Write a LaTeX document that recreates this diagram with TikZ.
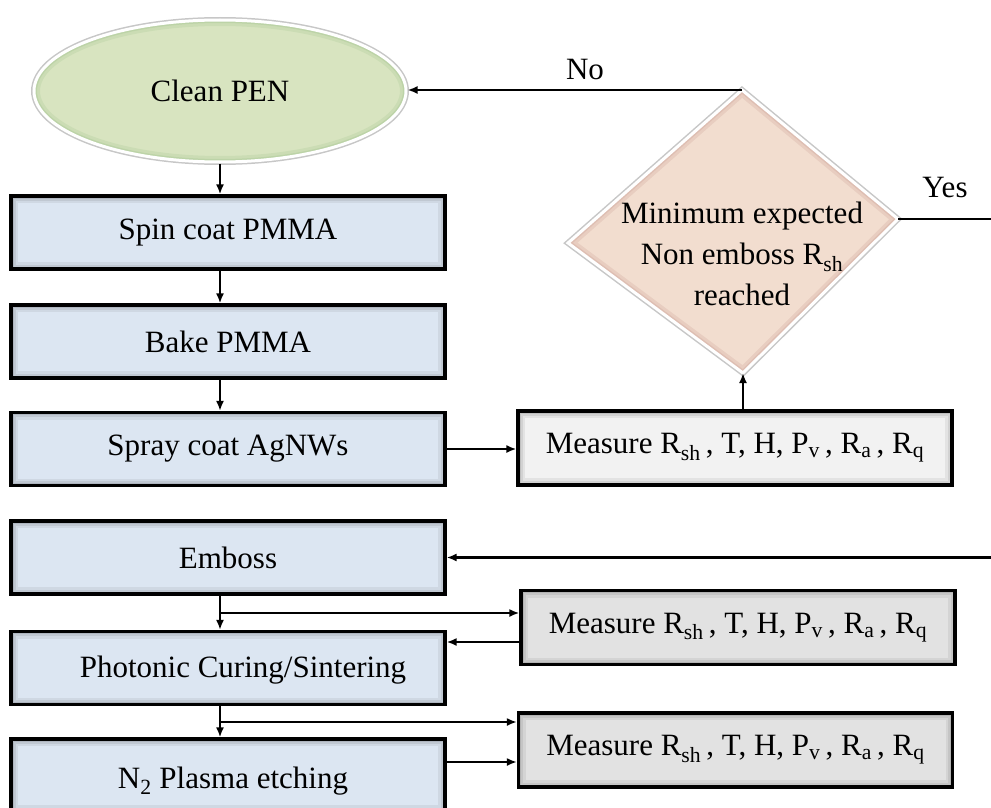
\documentclass[tikz,border=0pt]{standalone}
\usepackage{fontspec}
\setmainfont{Liberation Serif}
\usetikzlibrary{shapes.geometric,arrows.meta,calc}
\definecolor{boxblue}{RGB}{220,230,242}
\definecolor{lgray}{RGB}{242,242,242}
\definecolor{mgray}{RGB}{226,226,226}
\definecolor{peach}{RGB}{242,221,207}
\definecolor{lgreen}{RGB}{216,228,192}
\tikzset{
  inshadow/.style={path picture={
    \draw[line width=14pt,black,opacity=0.06] (path picture bounding box.north west) rectangle (path picture bounding box.south east);
    \draw[line width=9pt,black,opacity=0.07] (path picture bounding box.north west) rectangle (path picture bounding box.south east);
    \draw[line width=5pt,black,opacity=0.09] (path picture bounding box.north west) rectangle (path picture bounding box.south east);
  }},
  stepbox/.style={draw=black,line width=3.2pt,fill=boxblue,inshadow,minimum width=434pt,minimum height=73pt,inner sep=0pt},
  mbox/.style={draw=black,line width=3.2pt,inshadow,minimum width=434pt,minimum height=74pt,inner sep=0pt},
  arr/.style={line width=2.4pt,-{Latex[length=10pt,width=8pt]}},
  txt/.style={inner sep=0pt,font=\fontsize{31}{41}\selectfont}
}
\begin{document}
\begin{tikzpicture}[x=1pt,y=-1pt,every node/.style={font=\fontsize{31}{41}\selectfont}]
\useasboundingbox (0,0) rectangle (991,808);

% start ellipse
\node[ellipse,minimum width=372pt,minimum height=142pt,fill=lgreen,draw=white,line width=3pt,
  preaction={draw=black!22,line width=6pt},
  path picture={
    \draw[line width=12pt,black!60!green,opacity=0.06] (path picture bounding box.center) ellipse [x radius=186pt,y radius=71pt];
    \draw[line width=6pt,black!60!green,opacity=0.07] (path picture bounding box.center) ellipse [x radius=186pt,y radius=71pt];}]
  (ell) at (220,91) {Clean PEN};

% left column
\node[stepbox] (spin) at (228,232.5) {Spin coat PMMA};
\node[stepbox] (bake) at (228,341.5) {Bake PMMA};
\node[stepbox] (spray) at (228,449) {Spray coat AgNWs};
\node[stepbox] (emboss) at (228,557.5) {Emboss};
\node[stepbox] (photo) at (228,668) {};
\node[txt] (photot) at (243,670) {Photonic Curing/Sintering};
\node[stepbox] (n2) at (228,775.5) {};
\node[txt] (n2t) at (233,781) {N\textsubscript{2} Plasma etching};

% measure boxes
\node[mbox,fill=lgray] (m1) at (735,448) {Measure R\textsubscript{sh}\,, T, H, P\textsubscript{v}\,, R\textsubscript{a}\,, R\textsubscript{q}};
\node[mbox,fill=mgray] (m2) at (738,627.5) {Measure R\textsubscript{sh}\,, T, H, P\textsubscript{v}\,, R\textsubscript{a}\,, R\textsubscript{q}};
\node[mbox,fill=mgray] (m3) at (735.5,750) {Measure R\textsubscript{sh}\,, T, H, P\textsubscript{v}\,, R\textsubscript{a}\,, R\textsubscript{q}};

% decision diamond
\coordinate (dT) at (742,90);
\coordinate (dL) at (568,243);
\coordinate (dR) at (898,219);
\coordinate (dB) at (743,373);
\draw[line width=6pt,black!22,line join=miter] (dT)--(dR)--(dB)--(dL)--cycle;
\fill[peach] (dT)--(dR)--(dB)--(dL)--cycle;
\begin{scope}
  \clip (dT)--(dR)--(dB)--(dL)--cycle;
  \draw[line width=12pt,black!60!red,opacity=0.07,line join=miter] (dT)--(dR)--(dB)--(dL)--cycle;
  \draw[line width=6pt,black!60!red,opacity=0.07,line join=miter] (dT)--(dR)--(dB)--(dL)--cycle;
\end{scope}
\draw[line width=3pt,white,line join=miter] (dT)--(dR)--(dB)--(dL)--cycle;
\node[txt,align=center] (dtext) at (742,254) {Minimum expected\\Non emboss R\textsubscript{sh}\\reached};

% labels
\node[txt] (nolab) at (585,70) {No};
\node[txt] (yeslab) at (945,188) {Yes};

% connectors
\draw[arr] (ell.south) -- (ell.south |- spin.north);
\draw[arr] (spin.south -| ell.south) -- (bake.north -| ell.south);
\draw[arr] (bake.south -| ell.south) -- (spray.north -| ell.south);
\draw[arr] (spray.east) -- (spray.east -| m1.west);
\draw[arr] (dB |- m1.north) -- (dB);
\draw[arr] (dT) -- (dT -| ell.east);
\draw[arr] (dR) -- (1010,219) |- (emboss.east);

\draw[arr] (emboss.south -| ell.south) -- (photo.north -| ell.south);
\coordinate (b1) at (220,613);
\draw[arr] (b1) -- (b1 -| m2.west);
\path (m2.west) ++(0,14.5) coordinate (m2o);
\draw[arr] (m2o) -- (m2o -| photo.east);

\draw[arr] (photo.south -| ell.south) -- (n2.north -| ell.south);
\coordinate (b2) at (220,722);
\draw[arr] (b2) -- (b2 -| m3.west);
\path (n2.east) ++(0,-13.5) coordinate (n2o);
\draw[arr] (n2o) -- (n2o -| m3.west);
\end{tikzpicture}
\end{document}
